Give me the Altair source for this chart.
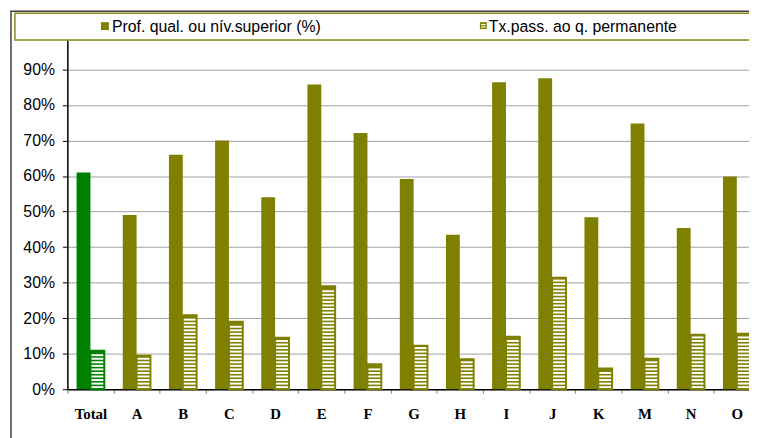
import altair as alt
import pandas as pd

# ---- data ----
categories = ["Total", "A", "B", "C", "D", "E", "F", "G", "H", "I", "J", "K", "M", "N", "O"]
prof_qual = [0.61, 0.49, 0.66, 0.70, 0.54, 0.858, 0.721, 0.592, 0.435, 0.864, 0.875, 0.484, 0.748, 0.454, 0.599]
tx_pass = [0.108, 0.094, 0.208, 0.19, 0.145, 0.29, 0.07, 0.122, 0.084, 0.148, 0.314, 0.058, 0.086, 0.153, 0.156]
series_names = ["Prof. qual. ou nív.superior (%)", "Tx.pass. ao q. permanente"]
y_ticks = [0.0, 0.1, 0.2, 0.3, 0.4, 0.5, 0.6, 0.7, 0.8, 0.9]

OLIVE = "#808000"
GREEN = "#008000"

rows = []
for c, p, t in zip(categories, prof_qual, tx_pass):
    grp = "total" if c == "Total" else "other"
    rows.append({"cat": c, "series": series_names[0], "value": p, "grp": grp})
    rows.append({"cat": c, "series": series_names[1], "value": t, "grp": grp})
df = pd.DataFrame(rows)
df_tx = df[df["series"] == series_names[1]]

# horizontal white stripes of the patterned bars (one every 1 %)
stripe_rows = []
for c, t in zip(categories, tx_pass):
    k = 0
    while (k + 0.85) / 100 <= t - 0.003:
        stripe_rows.append({"cat": c, "series": series_names[1],
                            "value": (k + 0.3) / 100, "hi": (k + 0.85) / 100})
        k += 1
df_stripes = pd.DataFrame(stripe_rows)

x_scale = alt.Scale(domain=categories, range=[0, 700], paddingInner=0, paddingOuter=0)
off_scale = alt.Scale(domain=series_names, paddingInner=0, paddingOuter=0.667)
y_scale = alt.Scale(domain=[0, 0.983], nice=False, zero=True)
col_scale = alt.Scale(domain=["total", "other"], range=[GREEN, OLIVE])

x_axis = alt.Axis(
    title=None, labelAngle=0, tickBand="extent", ticks=True, tickSize=4,
    tickColor="#808080", domainColor="#000000", domainWidth=1.5,
    labelFont="Liberation Serif", labelFontWeight="bold", labelFontSize=15,
    labelColor="#000000", labelBaseline="alphabetic", labelPadding=26, grid=False,
)
y_axis = alt.Axis(
    title=None, values=y_ticks, format=".0%", tickSize=5, tickColor="#000000",
    domainColor="#000000", domainWidth=1.5, labelFont="Liberation Sans",
    labelFontSize=16, labelColor="#000000", labelPadding=8,
    grid=True, gridColor="#a0a0a0", gridWidth=1,
)

X = alt.X("cat:N", sort=categories, scale=x_scale, axis=x_axis)
XO = alt.XOffset("series:N", scale=off_scale, sort=series_names)
Y = alt.Y("value:Q", scale=y_scale, axis=y_axis)

bars = alt.Chart(df).mark_bar().encode(
    x=X, xOffset=XO, y=Y,
    fill=alt.Fill("grp:N", scale=col_scale, legend=None),
)

stripes = alt.Chart(df_stripes).mark_bar(fill="#ffffff").encode(
    x=X, xOffset=XO, y=Y, y2="hi:Q",
)

outline = alt.Chart(df_tx).mark_bar(fillOpacity=0, strokeWidth=2).encode(
    x=X, xOffset=XO, y=Y,
    stroke=alt.Stroke("grp:N", scale=col_scale, legend=None),
)

# ---- chart frame and legend ----
one = pd.DataFrame({"k": [0]})
frame = alt.Chart(one).mark_rect(fillOpacity=0, stroke="#404040", strokeWidth=1.5).encode(
    x=alt.value(-57), x2=alt.value(900), y=alt.value(-29), y2=alt.value(600)
)
legend_box = alt.Chart(one).mark_rect(fill="#ffffff", stroke="#8c8c1a", strokeWidth=1.5).encode(
    x=alt.value(-53), x2=alt.value(900), y=alt.value(-27), y2=alt.value(0)
)
leg_sq1 = alt.Chart(one).mark_rect(fill=OLIVE).encode(
    x=alt.value(34), x2=alt.value(42), y=alt.value(-18), y2=alt.value(-10)
)
leg_sq2 = alt.Chart(one).mark_rect(fill=OLIVE).encode(
    x=alt.value(417), x2=alt.value(424), y=alt.value(-18), y2=alt.value(-11)
)
leg_sq2_s1 = alt.Chart(one).mark_rule(color="#ffffff", strokeWidth=1.2).encode(
    x=alt.value(418.2), x2=alt.value(422.8), y=alt.value(-15.6)
)
leg_sq2_s2 = alt.Chart(one).mark_rule(color="#ffffff", strokeWidth=1.2).encode(
    x=alt.value(418.2), x2=alt.value(422.8), y=alt.value(-13.2)
)
leg_df1 = pd.DataFrame({"label": [series_names[0]]})
leg_df2 = pd.DataFrame({"label": [series_names[1]]})
leg_t1 = alt.Chart(leg_df1).mark_text(
    align="left", baseline="middle", font="Liberation Sans", fontSize=16, color="#000000"
).encode(x=alt.value(45), y=alt.value(-13.5), text="label:N")
leg_t2 = alt.Chart(leg_df2).mark_text(
    align="left", baseline="middle", font="Liberation Sans", fontSize=16, color="#000000"
).encode(x=alt.value(426), y=alt.value(-13.5), text="label:N")

chart = alt.layer(
    bars, stripes, outline, frame, legend_box,
    leg_sq1, leg_sq2, leg_sq2_s1, leg_sq2_s2, leg_t1, leg_t2,
).properties(
    width=689, height=353,
    autosize=alt.AutoSizeParams(type="none"),
    padding={"left": 60, "top": 30, "right": 0, "bottom": 47},
).configure_view(stroke=None).configure(background="#ffffff")

chart.save("out.html", embed_options={"renderer": "svg", "actions": False})
